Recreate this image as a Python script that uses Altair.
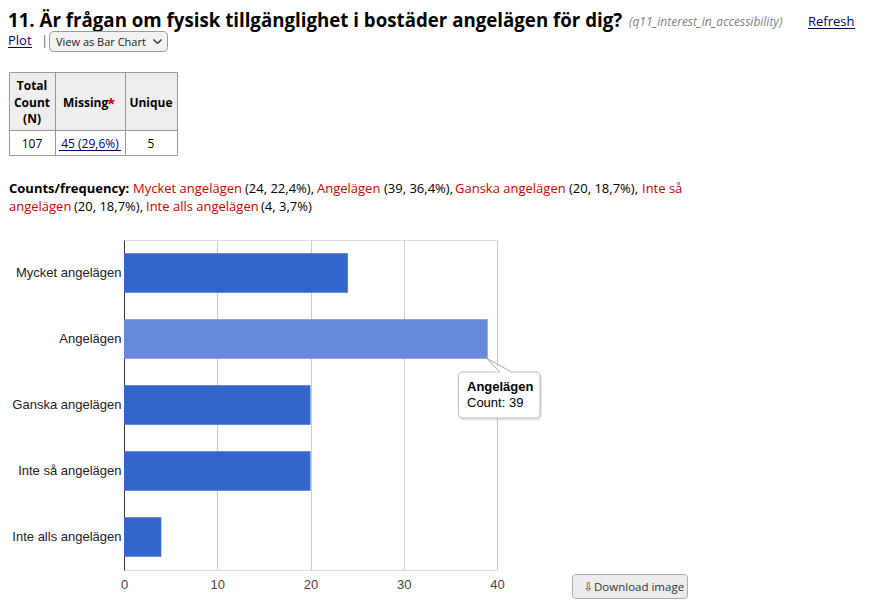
import altair as alt
import pandas as pd

# ---- data ----
categories = ["Mycket angelägen", "Angelägen", "Ganska angelägen", "Inte så angelägen", "Inte alls angelägen"]
counts = [24, 39, 20, 20, 4]
percents = ["22,4%", "36,4%", "18,7%", "18,7%", "3,7%"]
highlight = ["normal", "hover", "normal", "normal", "normal"]
x_ticks = [0, 10, 20, 30, 40]
total_n = 107
missing_label = "45 (29,6%)"
unique_n = 5

df = pd.DataFrame({"label": categories, "count": counts, "state": highlight})

# plot-area origin on the page (used to place page decorations)
OX, OY = 124, 240
W, H = 373, 330
ONE = alt.Data(values=[{"k": 1}])

LINK = "#000066"
RED = "#cc0000"


def T(text, x, y, size=13, color="#000000", font="Open Sans", weight="normal",
      style="normal", align="left", baseline="alphabetic"):
    return alt.Chart(ONE).mark_text(
        align=align, baseline=baseline, font=font, fontSize=size,
        fontWeight=weight, fontStyle=style, color=color
    ).encode(x=alt.value(x - OX), y=alt.value(y - OY), text=alt.value(text))


def R(x1, y1, x2, y2, fill="#ffffff", stroke=None, radius=0, sw=1, opacity=1):
    kw = dict(fill=fill, cornerRadius=radius, opacity=opacity)
    if stroke:
        kw.update(stroke=stroke, strokeWidth=sw)
    return alt.Chart(ONE).mark_rect(**kw).encode(
        x=alt.value(x1 - OX), x2=alt.value(x2 - OX),
        y=alt.value(y1 - OY), y2=alt.value(y2 - OY))


def L(x1, y1, x2, y2, color="#999999", sw=1):
    return alt.Chart(ONE).mark_rule(color=color, strokeWidth=sw).encode(
        x=alt.value(x1 - OX), x2=alt.value(x2 - OX),
        y=alt.value(y1 - OY), y2=alt.value(y2 - OY))


bars = alt.Chart(df).mark_bar().encode(
    y=alt.Y("label:N", sort=categories,
            scale=alt.Scale(paddingInner=0.4, paddingOuter=0.2),
            axis=alt.Axis(title=None, ticks=False, domain=True, domainColor="#333333",
                          domainWidth=1, grid=False, labelFont="Liberation Sans",
                          labelFontSize=13, labelColor="#222222", labelPadding=3)),
    x=alt.X("count:Q", scale=alt.Scale(domain=[0, 40], nice=False),
            axis=alt.Axis(title=None, values=x_ticks, ticks=False, domain=False,
                          grid=True, gridColor="#cccccc", labelFont="Liberation Sans",
                          labelFontSize=13, labelColor="#444444", labelPadding=8,
                          labelFlush=False)),
    color=alt.Color("state:N", scale=alt.Scale(domain=["normal", "hover"],
                                               range=["#3366cc", "#6689dd"]), legend=None),
)

deco = []
# header line
deco.append(T("11. Är frågan om fysisk tillgänglighet i bostäder angelägen för dig?", 8, 27, size=18.7, weight="bold"))
deco.append(T("(q11_interest_in_accessibility)", 629, 26, size=12, color="#808080", style="italic"))
deco.append(T("Refresh", 808, 26, size=13, color=LINK))
deco.append(L(808, 28.5, 855, 28.5, LINK))
deco.append(T("Plot", 8, 45, size=13, color=LINK))
deco.append(L(8, 47.5, 32, 47.5, LINK))
deco.append(T("|", 41, 45, size=13, color="#666666"))
deco.append(R(49.5, 31.5, 167.5, 51.5, fill="#f2f2f2", stroke="#9a9a9a", radius=4))
deco.append(T("View as Bar Chart", 56, 45.5, size=11, color="#222222"))
deco.append(L(153.5, 39.5, 157.5, 43.5, "#333333", 1.5))
deco.append(L(157.5, 43.5, 161.5, 39.5, "#333333", 1.5))

# summary table
deco.append(R(9.5, 72.5, 177.5, 130.5, fill="#eeeeee", stroke="#999999"))
deco.append(R(9.5, 130.5, 177.5, 155.5, fill="#ffffff", stroke="#999999"))
deco.append(L(55.5, 72.5, 55.5, 155.5, "#999999"))
deco.append(L(125.5, 72.5, 125.5, 155.5, "#999999"))
deco.append(T("Total", 32, 90, size=12, weight="bold", align="center"))
deco.append(T("Count", 32, 107, size=12, weight="bold", align="center"))
deco.append(T("(N)", 32, 123, size=12, weight="bold", align="center"))
deco.append(T("Missing", 63, 107, size=12, weight="bold"))
deco.append(T("*", 107, 109, size=15, weight="bold", color=RED))
deco.append(T("Unique", 151, 107, size=12, weight="bold", align="center"))
deco.append(T(str(total_n), 32, 148, size=12, align="center"))
deco.append(T(missing_label, 90, 148, size=12, align="center", color=LINK))
deco.append(L(59, 150.5, 121, 150.5, LINK))
deco.append(T(str(unique_n), 151, 148, size=12, align="center"))

# counts / frequency text
fr = [f"({c}, {p})" for c, p in zip(counts, percents)]
deco.append(T("Counts/frequency:", 9, 193, weight="bold"))
deco.append(T(categories[0], 133, 193, color=RED))
deco.append(T(fr[0] + ",", 245, 193))
deco.append(T(categories[1], 317, 193, color=RED))
deco.append(T(fr[1] + ",", 384, 193))
deco.append(T(categories[2], 455, 193, color=RED))
deco.append(T(fr[2] + ",", 569, 193))
deco.append(T("Inte så", 642, 193, color=RED))
deco.append(T("angelägen", 9, 211, color=RED))
deco.append(T(fr[3] + ",", 74, 211))
deco.append(T(categories[4], 146, 211, color=RED))
deco.append(T(fr[4], 261, 211))

# tooltip
deco.append(R(459, 373.5, 542, 420.5, fill="#000000", radius=5, opacity=0.10))
deco.append(R(458.5, 372, 540, 418, fill="#ffffff", stroke="#bbbbbb", radius=4))
deco.append(L(500, 372, 511, 372, "#ffffff", 2))
deco.append(L(497, 366.5, 497, 372, "#ffffff", 2))
deco.append(L(487, 358.5, 499.5, 372, "#aaaaaa"))
deco.append(L(487, 358.5, 511.5, 372, "#aaaaaa"))
deco.append(T(categories[1], 467, 391, size=13, font="Liberation Sans", weight="bold"))
deco.append(T(f"Count: {counts[1]}", 467, 407, size=13, font="Liberation Sans"))

# download button
deco.append(R(572.5, 574.5, 687.5, 598.5, fill="#ececec", stroke="#aaaaaa", radius=3))
deco.append(T("⇩", 588.5, 591, size=12, font="DejaVu Sans", color="#444444", align="center"))
deco.append(T("Download image", 594, 590.5, size=11.5, color="#333333"))

chart = alt.layer(bars, *deco).properties(
    width=W, height=H,
    autosize=alt.AutoSizeParams(type="none"),
    padding={"left": OX - 8, "top": OY - 8, "right": 850 - (OX - 8) - W, "bottom": 29},
).configure_view(stroke=None).configure(background="#ffffff")

chart.save("out.html", embed_options={"renderer": "svg", "actions": False})
